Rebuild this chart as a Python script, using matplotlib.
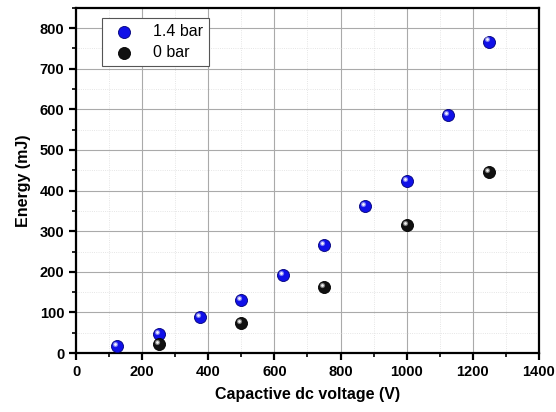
import matplotlib
matplotlib.use("Agg")
import matplotlib.pyplot as plt
import matplotlib.transforms as mtransforms
from matplotlib.ticker import MultipleLocator

plt.rcParams['font.family'] = ['Liberation Sans', 'DejaVu Sans']
plt.rcParams['font.weight'] = 'bold'

# data
volt_hi = [125, 250, 375, 500, 625, 750, 875, 1000, 1125, 1250]
energy_hi = [17, 48, 88, 131, 192, 265, 362, 424, 587, 767]
volt_lo = [250, 500, 750, 1000, 1250]
energy_lo = [23, 74, 163, 316, 445]

fig = plt.figure(figsize=(5.56, 4.12), dpi=100)
ax = fig.add_axes([0.137, 0.143, 0.832, 0.838])


def spheres(x, y, color, shade, label):
    ax.scatter(x, y, s=75, color=color, edgecolors=shade, linewidths=0.6, zorder=3, label=label)
    off = mtransforms.ScaledTranslation(-1.5 / 72, 1.5 / 72, fig.dpi_scale_trans)
    ax.scatter(x, y, s=14, color='white', alpha=0.45, linewidths=0,
               transform=ax.transData + off, zorder=4)
    ax.scatter(x, y, s=4, color='white', alpha=0.9, linewidths=0,
               transform=ax.transData + off, zorder=5)


spheres(volt_hi, energy_hi, '#1010e8', '#00007a', '1.4 bar')
spheres(volt_lo, energy_lo, '#111111', '#000000', '0 bar')

ax.set_xlim(0, 1400)
ax.set_ylim(0, 850)
ax.xaxis.set_major_locator(MultipleLocator(200))
ax.xaxis.set_minor_locator(MultipleLocator(100))
ax.yaxis.set_major_locator(MultipleLocator(100))
ax.yaxis.set_minor_locator(MultipleLocator(50))

ax.grid(which='major', color='#aaaaaa', linewidth=0.8)
ax.grid(which='minor', color='#dddddd', linewidth=0.6, linestyle=':')
ax.set_axisbelow(True)

for s in ax.spines.values():
    s.set_linewidth(1.6)
ax.tick_params(which='major', direction='out', length=5, width=1.6, labelsize=10.5)
ax.tick_params(which='minor', direction='out', length=3, width=1.2)

ax.set_xlabel('Capactive dc voltage (V)', fontsize=11.5, fontweight='bold', labelpad=6)
ax.set_ylabel('Energy (mJ)', fontsize=11.5, fontweight='bold', labelpad=6)

leg = ax.legend(loc='upper left', bbox_to_anchor=(0.045, 0.985), fancybox=False,
                edgecolor='#555555', framealpha=1, fontsize=11.5, handletextpad=0.8,
                borderpad=0.4, labelspacing=0.35, borderaxespad=0.3)
for t in leg.get_texts():
    t.set_fontweight('normal')
leg.get_frame().set_linewidth(0.8)

fig.savefig('out.png', dpi=100)
